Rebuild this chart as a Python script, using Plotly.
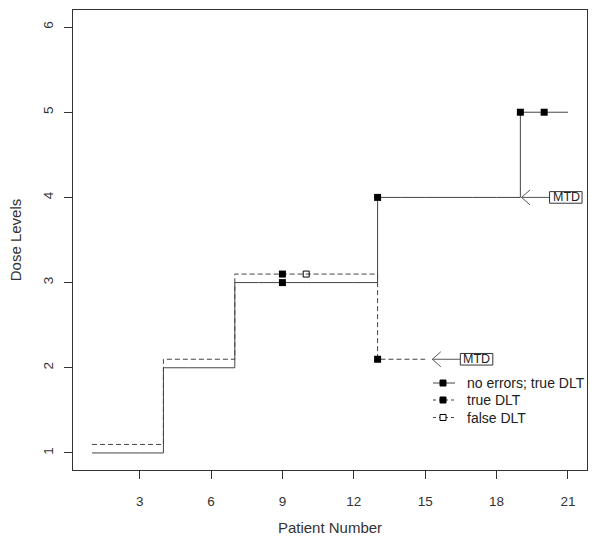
import plotly.graph_objects as go

# ---- data ----
patients = list(range(1, 22))
dose_no_err = [1, 1, 1, 2, 2, 2, 3, 3, 3, 3, 3, 3, 4, 4, 4, 4, 4, 4, 5, 5, 5]
dlt_no_err = [9, 13, 19, 20]

patients_err = list(range(1, 16))
dose_err = [1, 1, 1, 2, 2, 2, 3, 3, 3, 3, 3, 3, 2, 2, 2]
offset = 0.1
true_dlt_err = [9, 13]
false_dlt_err = [10]

mtd_labels = ["MTD", "MTD"]
mtd_x = [19.05, 15.3]
mtd_y = [4, 2 + offset]

legend_labels = ["no errors; true DLT", "true DLT", "false DLT"]

x_ticks = [3, 6, 9, 12, 15, 18, 21]
y_ticks = [1, 2, 3, 4, 5, 6]

LINE = "#444444"
FONT = "Arial, Liberation Sans, sans-serif"
DASH = "5px,3px"

# plot-area geometry (pixels) for paper-coordinate helpers
PL, PR, PT, PB = 73, 587, 10, 470
W, H = 600, 548


def px(xp):
    return (xp - PL) / (PR - PL)


def py(yp):
    return (PB - yp) / (PB - PT)


fig = go.Figure()

# solid step: no errors
fig.add_trace(go.Scatter(x=patients, y=dose_no_err, mode="lines",
                         line=dict(color=LINE, width=1, shape="hv"),
                         showlegend=False, hoverinfo="skip"))
fig.add_trace(go.Scatter(x=dlt_no_err,
                         y=[dose_no_err[p - 1] for p in dlt_no_err],
                         mode="markers",
                         marker=dict(symbol="square", size=7, color="black"),
                         showlegend=False))

# dashed step: with errors
y_err = [d + offset for d in dose_err]
fig.add_trace(go.Scatter(x=patients_err, y=y_err, mode="lines",
                         line=dict(color=LINE, width=1, shape="hv", dash=DASH),
                         showlegend=False, hoverinfo="skip"))
fig.add_trace(go.Scatter(x=true_dlt_err,
                         y=[y_err[p - 1] for p in true_dlt_err],
                         mode="markers",
                         marker=dict(symbol="square", size=7, color="black"),
                         showlegend=False))
fig.add_trace(go.Scatter(x=false_dlt_err,
                         y=[y_err[p - 1] for p in false_dlt_err],
                         mode="markers",
                         marker=dict(symbol="square-open", size=6, color="black",
                                     line=dict(width=1)),
                         showlegend=False))

# MTD arrows with boxed labels
for lab, xx, yy in zip(mtd_labels, mtd_x, mtd_y):
    common = dict(xref="x", yref="y", xsizemode="pixel", ysizemode="pixel",
                  xanchor=xx, yanchor=yy, layer="above")
    fig.add_shape(type="path", path="M 8.5,7.5 L 0,0 L 8.5,-7.5",
                  line=dict(color="#555", width=1), **common)
    fig.add_shape(type="path", path="M 0,0 L 28,0",
                  line=dict(color="#555", width=1), **common)
    fig.add_shape(type="rect", x0=28, x1=60.5, y0=-5.8, y1=5.8,
                  line=dict(color="#333", width=1), fillcolor="white", **common)
    fig.add_annotation(x=xx, y=yy, xref="x", yref="y", text=lab,
                       showarrow=False, xshift=44.5, yshift=0,
                       font=dict(family=FONT, size=12.5, color="#222"))

# manual legend (no box)
leg_rows_y = [383, 400, 417.5]
leg_dash = ["solid", "3px,3px", "3px,3px"]
leg_fill = ["black", "black", "white"]
for lab, yrow, dsh, fill in zip(legend_labels, leg_rows_y, leg_dash, leg_fill):
    fig.add_shape(type="line", xref="paper", yref="paper",
                  x0=px(433), x1=px(455), y0=py(yrow), y1=py(yrow),
                  line=dict(color=LINE, width=1, dash=dsh))
    fig.add_shape(type="rect", xref="paper", yref="paper",
                  xsizemode="pixel", ysizemode="pixel",
                  xanchor=px(443), yanchor=py(yrow),
                  x0=-3, x1=3, y0=-3, y1=3,
                  line=dict(color="black", width=1), fillcolor=fill)
    fig.add_annotation(x=px(465), y=py(yrow), xref="paper", yref="paper",
                       text=lab, showarrow=False, xanchor="left",
                       yanchor="middle",
                       font=dict(family=FONT, size=14, color="#222"))

axis_common = dict(showline=True, linecolor="#333", linewidth=1, mirror=True,
                   ticks="outside", ticklen=8, tickcolor="#333", tickwidth=1,
                   showgrid=False, zeroline=False, automargin=False,
                   tickfont=dict(family=FONT, size=13.5, color="#333"),
                   title_font=dict(family=FONT, size=15, color="#333"))

fig.update_xaxes(range=[0.2, 21.8], tickvals=x_ticks,
                 title_text="Patient Number", title_standoff=14,
                 ticklabelstandoff=11, **axis_common)
fig.update_yaxes(range=[0.8, 6.2], tickvals=y_ticks, tickangle=-90,
                 title_text="Dose Levels", title_standoff=15,
                 ticklabelstandoff=6, **axis_common)

fig.update_layout(
    width=W, height=H,
    margin=dict(l=PL, r=W - PR, t=PT, b=H - PB),
    paper_bgcolor="white", plot_bgcolor="white",
    font=dict(family=FONT, size=12, color="#333"),
    showlegend=False,
)

fig.write_html("out.html",
               config={"displayModeBar": False},
               post_script="document.body.style.margin='0';")
